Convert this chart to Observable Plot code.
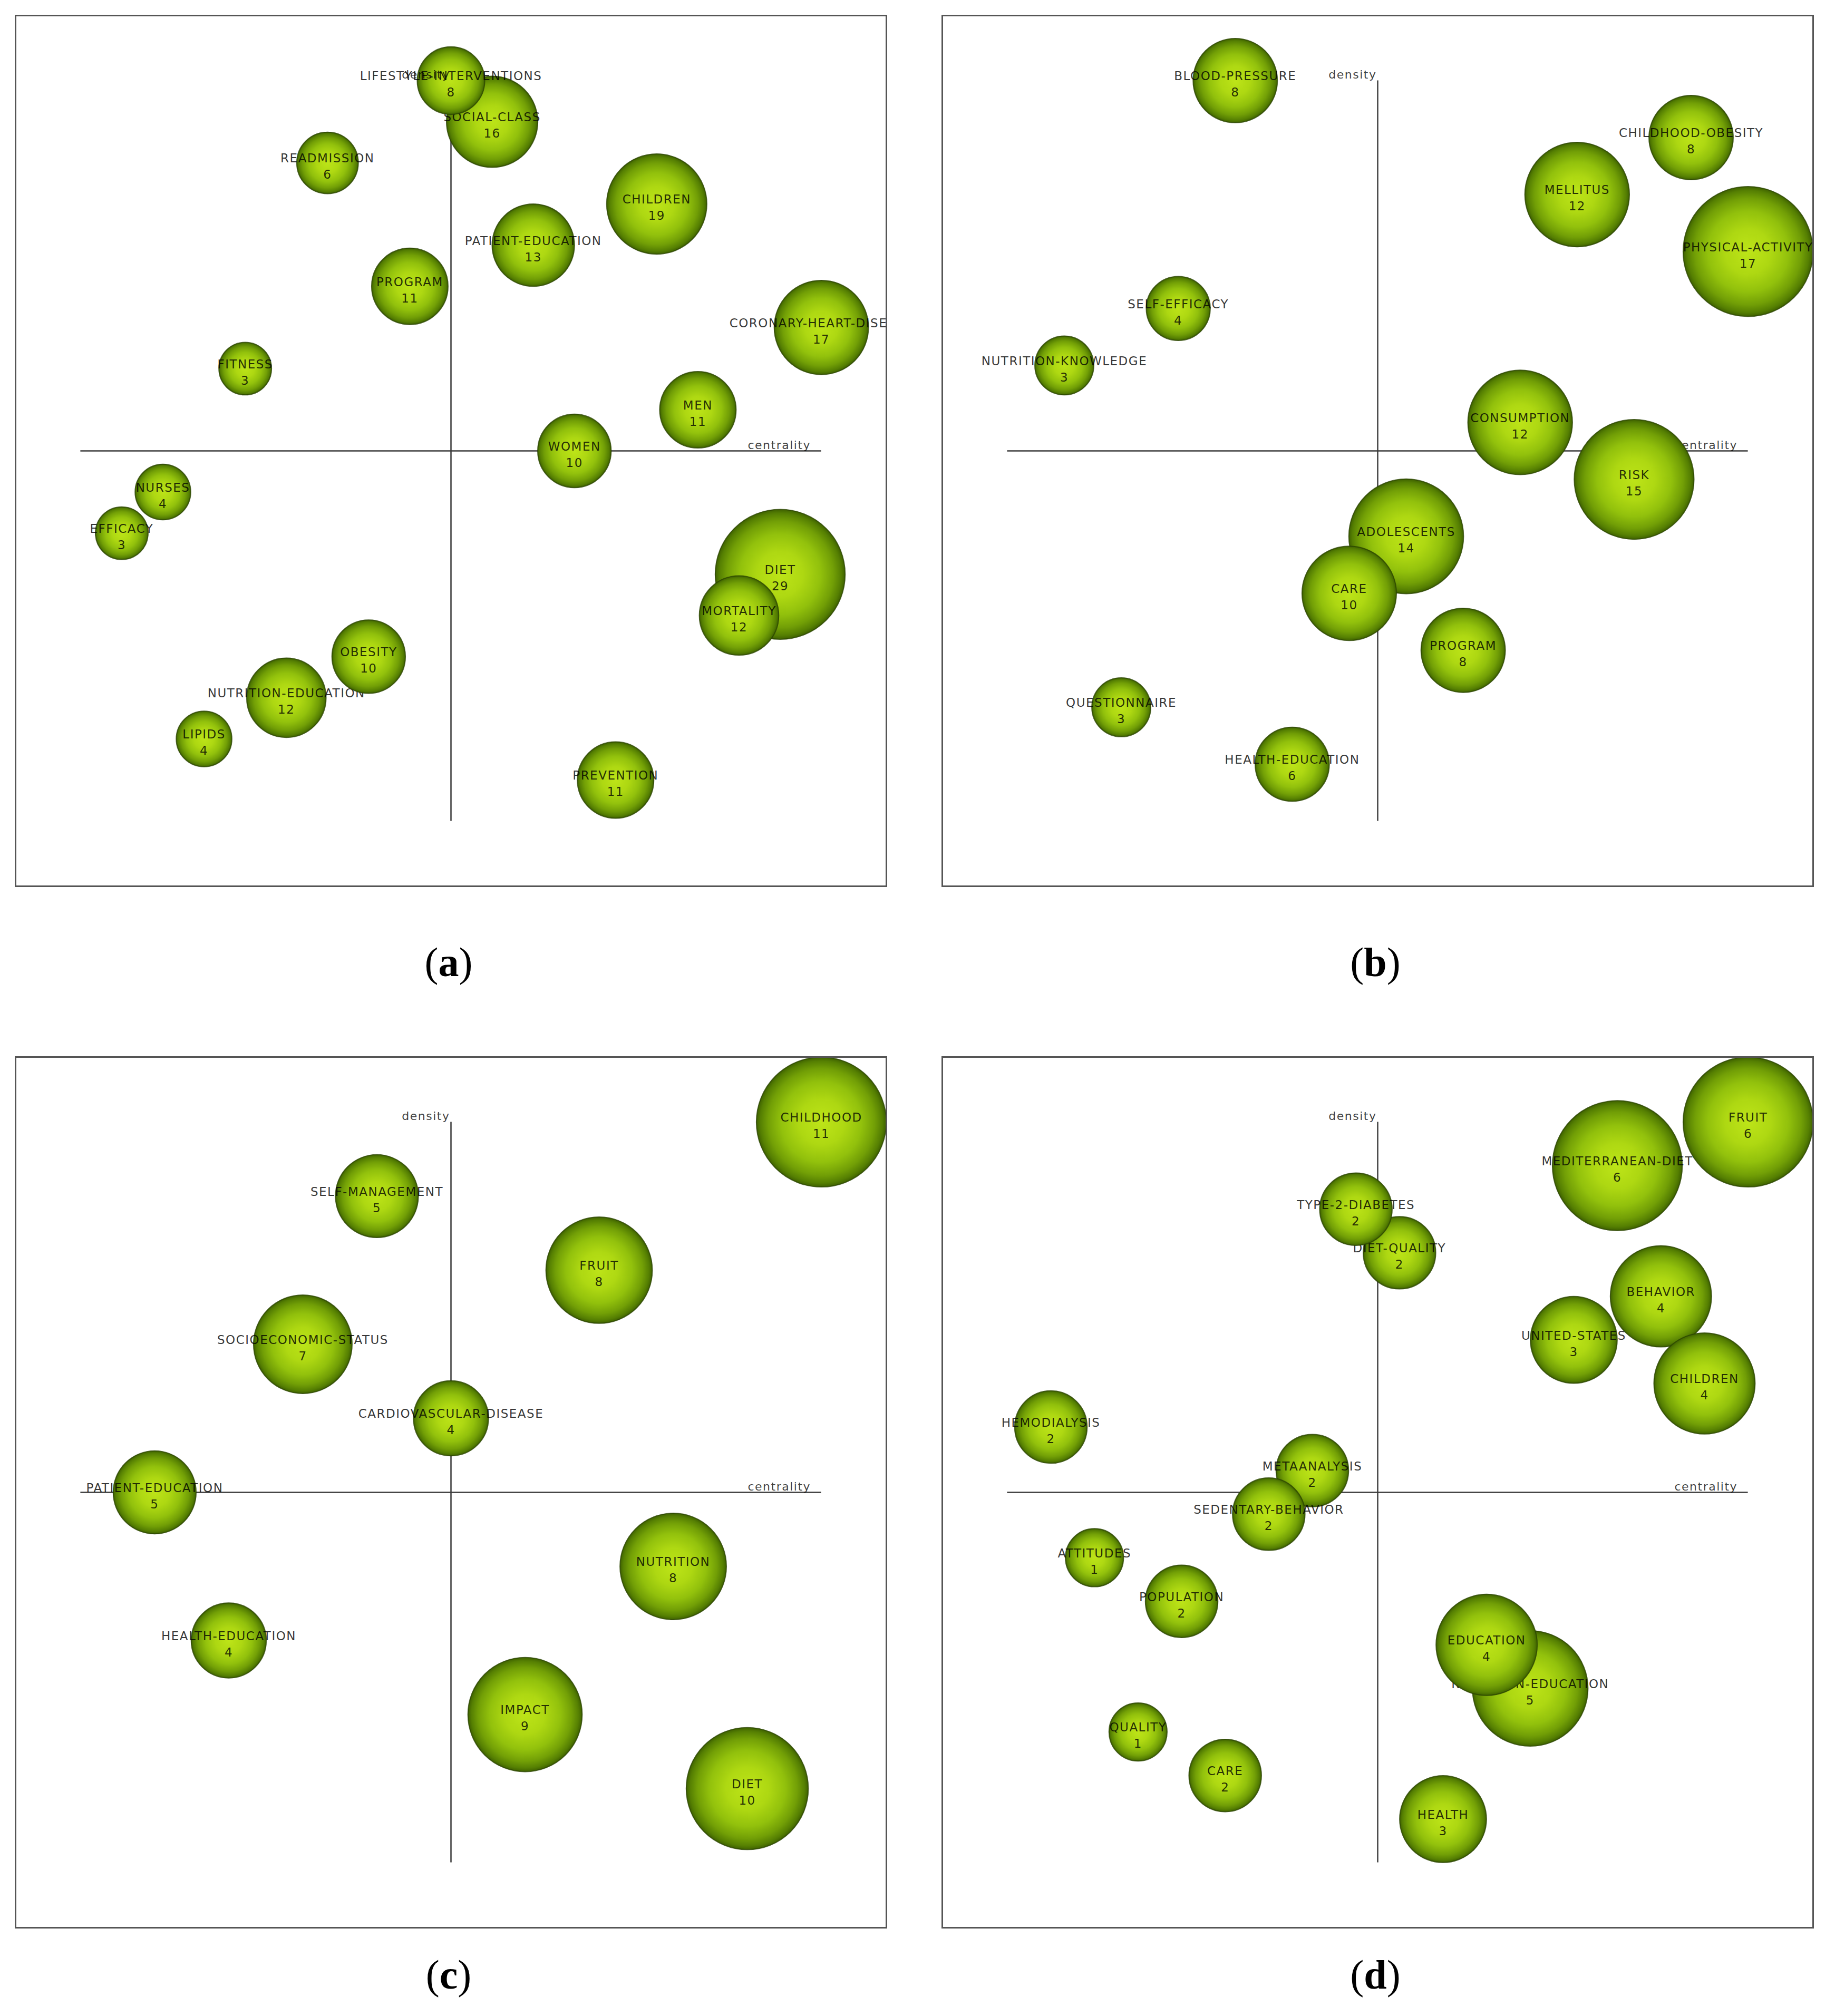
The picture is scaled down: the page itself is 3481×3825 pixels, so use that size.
<!DOCTYPE html>
<html>
<head>
<meta charset="utf-8">
<script src="https://cdn.jsdelivr.net/npm/d3@7"></script>
<script src="https://cdn.jsdelivr.net/npm/@observablehq/plot@0.6"></script>
<style>
html, body { margin: 0; padding: 0; background: #fff; }
#root { position: relative; width: 3481px; height: 3825px; overflow: hidden; background: #fff; }
.panel { position: absolute; }
.cap { position: absolute; width: 400px; text-align: center; font-family: "Liberation Serif", "Times New Roman", serif; font-size: 78px; line-height: 78px; color: #000; font-weight: normal; }
.cap b { font-weight: bold; }
</style>
</head>
<body>
<div id="root"></div>
<script>
// ---------- DATA (theme, document count, centrality rank, density rank) ----------
// Panel (a)
const themesA = ["LIFESTYLE-INTERVENTIONS","SOCIAL-CLASS","READMISSION","CHILDREN","PATIENT-EDUCATION","PROGRAM","CORONARY-HEART-DISEASE","FITNESS","MEN","WOMEN","NURSES","EFFICACY","DIET","MORTALITY","OBESITY","NUTRITION-EDUCATION","LIPIDS","PREVENTION"];
const countsA = [8,16,6,19,13,11,17,3,11,10,4,3,29,12,10,12,4,11];
const centralityA = [9,10,6,14,11,8,18,4,15,12,2,1,17,16,7,5,3,13];
const densityA = [18,17,16,15,14,13,12,11,10,9,8,7,6,5,4,3,2,1];

// Panel (b)
const themesB = ["BLOOD-PRESSURE","CHILDHOOD-OBESITY","MELLITUS","PHYSICAL-ACTIVITY","SELF-EFFICACY","NUTRITION-KNOWLEDGE","CONSUMPTION","RISK","ADOLESCENTS","CARE","PROGRAM","QUESTIONNAIRE","HEALTH-EDUCATION"];
const countsB = [8,8,12,17,4,3,12,15,14,10,8,3,6];
const centralityB = [4,12,10,13,3,1,9,11,7,6,8,2,5];
const densityB = [13,12,11,10,9,8,7,6,5,4,3,2,1];

// Panel (c)
const themesC = ["CHILDHOOD","SELF-MANAGEMENT","FRUIT","SOCIOECONOMIC-STATUS","CARDIOVASCULAR-DISEASE","PATIENT-EDUCATION","NUTRITION","HEALTH-EDUCATION","IMPACT","DIET"];
const countsC = [11,5,8,7,4,5,8,4,9,10];
const centralityC = [10,4,7,3,5,1,8,2,6,9];
const densityC = [10,9,8,7,6,5,4,3,2,1];

// Panel (d)
const themesD = ["FRUIT","MEDITERRANEAN-DIET","DIET-QUALITY","TYPE-2-DIABETES","BEHAVIOR","UNITED-STATES","CHILDREN","HEMODIALYSIS","METAANALYSIS","SEDENTARY-BEHAVIOR","ATTITUDES","POPULATION","NUTRITION-EDUCATION","EDUCATION","QUALITY","CARE","HEALTH"];
const countsD = [6,6,2,2,4,3,4,2,2,2,1,2,5,4,1,2,3];
const centralityD = [17,14,9,8,15,13,16,1,7,6,2,4,12,11,3,5,10];
const densityD = [17,16,14,15,13,12,11,10,9,8,7,6,4,5,3,2,1];

const captionLetters = ["a","b","c","d"];
const axisLabelX = "centrality";
const axisLabelY = "density";

// ---------- LAYOUT ----------
const PANEL = 1652;       // inner panel size (px)
const PAD = 2;            // room for the frame stroke
const K = 826 / 702.6;    // panel half-size / axis half-length
const RMIN = 41.5, RMAX = 123.2;

const panels = [
  {themes: themesA, counts: countsA, c: centralityA, d: densityA, left: 29,   top: 29,   capTop: 1787},
  {themes: themesB, counts: countsB, c: centralityB, d: densityB, left: 1787, top: 29,   capTop: 1787},
  {themes: themesC, counts: countsC, c: centralityC, d: densityC, left: 29,   top: 2005, capTop: 3708},
  {themes: themesD, counts: countsD, c: centralityD, d: densityD, left: 1787, top: 2005, capTop: 3708}
];

const root = document.getElementById("root");
const FONT = "DejaVu Sans, Verdana, sans-serif";
const labelStyle = {fontFamily: FONT, fontSize: 23, fill: "#000", fillOpacity: 0.8, clip: true};

panels.forEach((p, idx) => {
  const n = p.themes.length;
  const rows = p.themes.map((t, i) => ({theme: t, count: p.counts[i], c: p.c[i], d: p.d[i]}));
  const order = d3.sort(rows, r => -r.count); // larger bubbles drawn first (stable for ties)
  const half = n / 2, ext = half * K;
  const dom = [half - ext, half + ext];
  const gid = "bubbleGrad" + idx;

  const marks = [
    Plot.ruleX([half], {y1: 0, y2: n, stroke: "#3a3a3a", strokeWidth: 2.5}),
    Plot.ruleY([half], {x1: 0, x2: n, stroke: "#3a3a3a", strokeWidth: 2.5}),
    Plot.text([axisLabelX], {x: n, y: half, text: d => d, textAnchor: "end", dx: -20, dy: -11,
      fontFamily: FONT, fontSize: 22, fill: "#000", fillOpacity: 0.75})
  ];
  for (const r of order) {
    marks.push(Plot.dot([r], {x: "c", y: "d", r: "count", fill: `url(#${gid})`,
      stroke: "#2b4500", strokeWidth: 2, strokeOpacity: 0.8, clip: true}));
    marks.push(Plot.text([r], {x: "c", y: "d", text: "theme", dy: -8, ...labelStyle}));
    marks.push(Plot.text([r], {x: "c", y: "d", text: d => String(d.count), dy: 23, ...labelStyle}));
  }
  marks.push(Plot.text([axisLabelY], {x: half, y: n, text: d => d, textAnchor: "end", dx: -2, dy: -11,
    fontFamily: FONT, fontSize: 22, fill: "#000", fillOpacity: 0.75}));
  marks.push(Plot.frame({stroke: "#555", strokeWidth: 3}));

  const svg = Plot.plot({
    width: PANEL + 2 * PAD,
    height: PANEL + 2 * PAD,
    margin: PAD,
    x: {domain: dom, axis: null},
    y: {domain: dom, axis: null},
    r: {type: "linear", domain: [0, d3.max(p.counts)], range: [RMIN, RMAX]},
    style: {background: "transparent", fontFamily: FONT, letterSpacing: "1.5px", overflow: "hidden", maxWidth: "none"},
    marks
  });

  const defs = d3.select(svg).insert("defs", ":first-child");
  const grad = defs.append("radialGradient").attr("id", gid)
    .attr("cx", "50%").attr("cy", "50%").attr("r", "50%");
  [[0, "#bde418"], [0.35, "#aed812"], [0.62, "#92c10c"], [0.82, "#729f06"], [0.94, "#557f02"], [1, "#3f6200"]]
    .forEach(([o, c]) => grad.append("stop").attr("offset", o).attr("stop-color", c));

  const wrap = document.createElement("div");
  wrap.className = "panel";
  wrap.style.left = (p.left - PAD) + "px";
  wrap.style.top = (p.top - PAD) + "px";
  wrap.appendChild(svg);
  root.appendChild(wrap);

  const cap = document.createElement("div");
  cap.className = "cap";
  cap.style.left = (p.left + PANEL / 2 - 4 - 200) + "px";
  cap.style.top = p.capTop + "px";
  cap.innerHTML = "(<b>" + captionLetters[idx] + "</b>)";
  root.appendChild(cap);
});
</script>
</body>
</html>
